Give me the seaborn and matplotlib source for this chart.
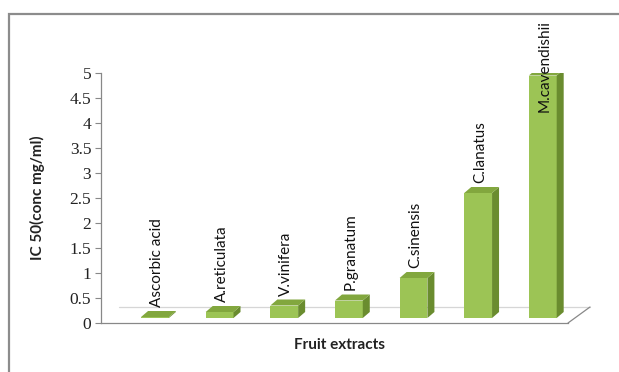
import matplotlib
matplotlib.use("Agg")
import matplotlib.pyplot as plt
import matplotlib.patches as mpatches
from matplotlib.lines import Line2D
import seaborn as sns
import pandas as pd

categories = ["Ascorbic acid", "A.reticulata", "V.vinifera", "P.granatum",
              "C.sinensis", "C.lanatus", "M.cavendishii"]
ic50 = [0.02, 0.12, 0.25, 0.35, 0.8, 2.5, 4.85]
yticks = [0, 0.5, 1, 1.5, 2, 2.5, 3, 3.5, 4, 4.5, 5]
yticklabels = ["0", "0.5", "1", "1.5", "2", "2.5", "3", "3.5", "4", "4.5", "5"]

df = pd.DataFrame({"fruit": categories, "ic50": ic50})

sns.set_theme(style="white")
plt.rcParams["font.family"] = ["Lato", "DejaVu Sans"]

W, H = 619, 372
fig = plt.figure(figsize=(W / 100, H / 100), dpi=100)
fig.patch.set_facecolor("white")

# outer chart-area border (only left & top visible)
fig.add_artist(mpatches.Rectangle((9 / W, -0.1), 1.2, (H - 14) / H + 0.1,
                                  transform=fig.transFigure, fill=False,
                                  edgecolor="#8c8c8c", linewidth=1.6))

ax_l, ax_r, ax_b, ax_t = 101, 568, 323, 73
ax = fig.add_axes([ax_l / W, (H - ax_b) / H, (ax_r - ax_l) / W, (ax_b - ax_t) / H])
ax.set_facecolor("none")

front = "#9cc455"
side = "#6a8c2f"
top = "#82a73e"

sns.barplot(data=df, x="fruit", y="ic50", ax=ax, color=front, width=0.43,
            saturation=1, edgecolor="none", zorder=3)

ax.set_ylim(0, 5)
ax.set_xlim(-0.835, 6.39)

# 3D depth: offsets in pixels converted to data units
px_x = (6.39 + 0.835) / (ax_r - ax_l)
px_y = 5 / (ax_b - ax_t)
dx, dy = 7 * px_x, 6 * px_y
lift = 5 * px_y

for p in list(ax.patches):
    x0 = p.get_x()
    w = p.get_width()
    h = p.get_height()
    p.set_y(lift)
    yb, yt = lift, lift + h
    ax.add_patch(mpatches.Polygon([(x0 + w, yb), (x0 + w + dx, yb + dy),
                                   (x0 + w + dx, yt + dy), (x0 + w, yt)],
                                  closed=True, facecolor=side, edgecolor="none", zorder=3))
    ax.add_patch(mpatches.Polygon([(x0, yt), (x0 + dx, yt + dy),
                                   (x0 + w + dx, yt + dy), (x0 + w, yt)],
                                  closed=True, facecolor=top, edgecolor="none", zorder=3))

# rotated category labels above bars
for i, (name, v) in enumerate(zip(categories, ic50)):
    ylab = min(v + lift + dy + 0.08, 4.22)
    ax.text(i + 0.03, ylab, name, rotation=90, ha="center", va="bottom",
            fontsize=11, color="#111111", zorder=5, clip_on=False)

ax.set_yticks(yticks)
ax.set_yticklabels(yticklabels, fontfamily="Liberation Serif", fontsize=12.5)
ax.set_xticks([])
ax.tick_params(axis="y", direction="out", length=4, width=0.8, color="#888888",
               left=True, pad=3, labelcolor="#222222")
ax.set_xlabel("Fruit extracts", fontsize=11, fontweight="bold", color="#222222")
ax.set_ylabel("IC 50(conc mg/ml)", fontsize=11, fontweight="bold", color="#222222")
ax.xaxis.set_label_coords((340 - ax_l) / (ax_r - ax_l), -0.06)
ax.yaxis.set_label_coords(-(101 - 45) / (ax_r - ax_l), 0.5)

sns.despine(ax=ax, top=True, right=True)
ax.spines["left"].set_color("#888888")
ax.spines["left"].set_linewidth(0.9)
ax.spines["bottom"].set_color("#888888")
ax.spines["bottom"].set_linewidth(0.9)

# floor edges (back edge and right diagonal)
fx = 22 / (ax_r - ax_l)
fy = 16 / (ax_b - ax_t)
ax.add_line(Line2D([1.0, 1.0 + fx], [0.0, fy], transform=ax.transAxes,
                   color="#888888", linewidth=0.9, clip_on=False))
ax.add_line(Line2D([fx * 0.8, 1.0 + fx], [fy, fy], transform=ax.transAxes,
                   color="#d6d6d6", linewidth=0.9, clip_on=False, zorder=1))

fig.savefig("out.png", dpi=100, facecolor="white")
